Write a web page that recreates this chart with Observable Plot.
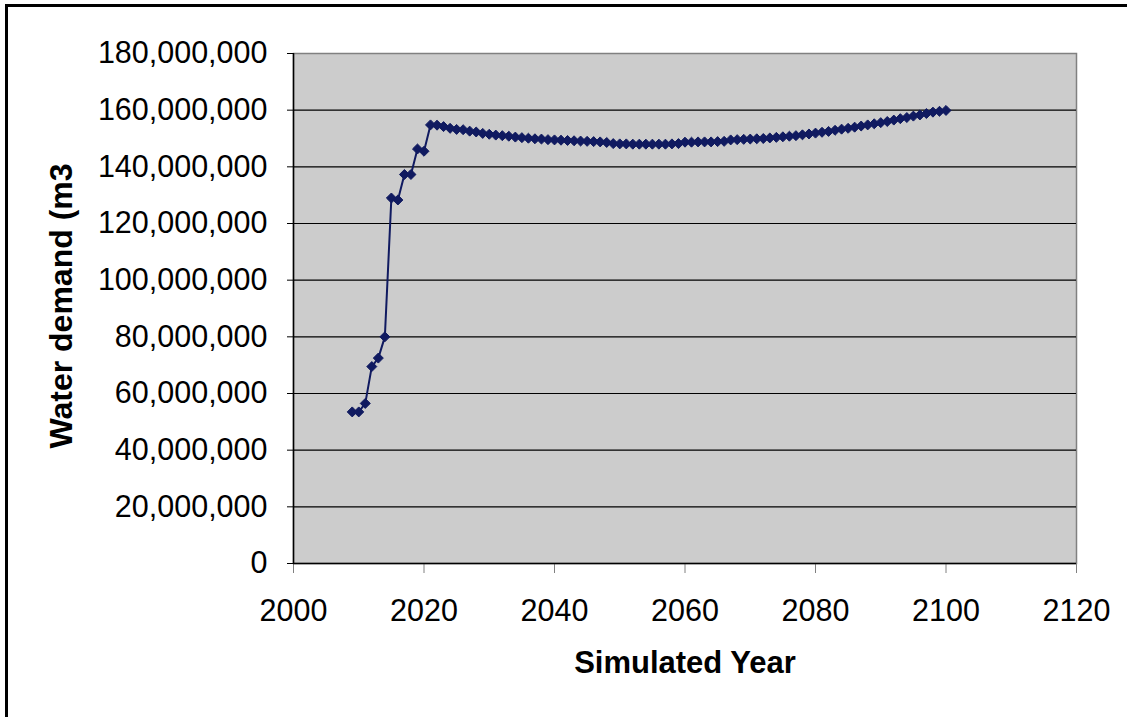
<!DOCTYPE html>
<html>
<head>
<meta charset="utf-8">
<script src="https://cdn.jsdelivr.net/npm/d3@7"></script>
<script src="https://cdn.jsdelivr.net/npm/@observablehq/plot@0.6"></script>
<style>
  html, body { margin: 0; padding: 0; background: #fff; overflow: hidden; }
  #wrap { position: relative; width: 1127px; height: 717px; font-family: "Liberation Sans", Arial, sans-serif; }
  #border { position: absolute; left: 5px; top: 4px; width: 1200px; height: 800px; border-left: 3px solid #000; border-top: 3px solid #000; }
  #chart { position: absolute; left: 0; top: 0; }
  .ytitle { position: absolute; left: 61px; top: 306px; transform: translate(-50%, -50%) rotate(-90deg); font-weight: bold; font-size: 32px; white-space: nowrap; color: #000; }
  .xtitle { position: absolute; left: 685px; top: 663px; transform: translate(-50%, -50%); font-weight: bold; font-size: 31px; white-space: nowrap; color: #000; }
</style>
</head>
<body>
<div id="wrap">
  <div id="border"></div>
  <div id="chart"></div>
  <div class="ytitle">Water demand (m3</div>
  <div class="xtitle">Simulated Year</div>
</div>
<script>
const years = d3.range(2009, 2101);
const demand = [
  53.5, 53.5, 56.5, 69.5, 72.5, 80.0, 129.0, 128.3, 137.3, 137.3,
  146.3, 145.5, 154.8, 154.7, 154.2, 153.6, 153.2, 153.1, 152.6, 152.3,
  151.8, 151.5, 151.2, 151.0, 150.8, 150.5, 150.3, 150.1, 149.9, 149.8,
  149.6, 149.5, 149.4, 149.3, 149.2, 149.1, 149.0, 148.9, 148.8, 148.6,
  148.2, 148.1, 148.1, 148.0, 148.0, 148.0, 148.0, 148.0, 148.0, 148.1,
  148.2, 148.7, 148.7, 148.8, 148.8, 148.8, 148.9, 149.0, 149.5, 149.6,
  149.7, 149.8, 149.9, 150.0, 150.2, 150.4, 150.6, 150.8, 151.0, 151.3,
  151.6, 151.9, 152.2, 152.5, 152.9, 153.3, 153.6, 154.0, 154.4, 154.8,
  155.2, 155.6, 156.0, 156.5, 157.0, 157.4, 157.9, 158.3, 158.8, 159.3,
  159.6, 159.9
];
const xTicks = [2000, 2020, 2040, 2060, 2080, 2100, 2120];
const yTicks = [0, 20e6, 40e6, 60e6, 80e6, 100e6, 120e6, 140e6, 160e6, 180e6];

const data = years.map((y, i) => ({year: y, value: demand[i] * 1e6}));
const navy = "#101a60";

const chart = Plot.plot({
  width: 1127,
  height: 717,
  marginLeft: 293,
  marginRight: 51,
  marginTop: 53,
  marginBottom: 154,
  style: {fontFamily: "'Liberation Sans', Arial, sans-serif", fontSize: "30.5px", color: "#000", background: "transparent"},
  x: {domain: [2000, 2120]},
  y: {domain: [0, 180e6]},
  marks: [
    Plot.frame({fill: "#cccccc", stroke: "#808080", strokeWidth: 1.5}),
    Plot.gridY(yTicks.filter(d => d > 0 && d < 180e6), {stroke: "#000", strokeOpacity: 1, strokeWidth: 1.2}),
    Plot.axisX(xTicks, {tickSize: 10, tickPadding: 26, tickFormat: d => String(d), stroke: "#808080", fontSize: 30.5, label: null}),
    Plot.axisY(yTicks, {tickSize: 6, tickPadding: 20, tickFormat: d3.format(","), stroke: "#000", fontSize: 30.5, label: null}),
    Plot.ruleX([2000], {stroke: "#000", strokeWidth: 1.5, y1: 0, y2: 180e6}),
    Plot.ruleY([0], {stroke: "#000", strokeWidth: 1.5}),
    Plot.line(data, {x: "year", y: "value", stroke: navy, strokeWidth: 2}),
    Plot.dot(data, {x: "year", y: "value", symbol: "diamond2", r: 4.5, fill: navy, stroke: navy, strokeWidth: 1})
  ]
});
document.getElementById("chart").appendChild(chart);
</script>
</body>
</html>
